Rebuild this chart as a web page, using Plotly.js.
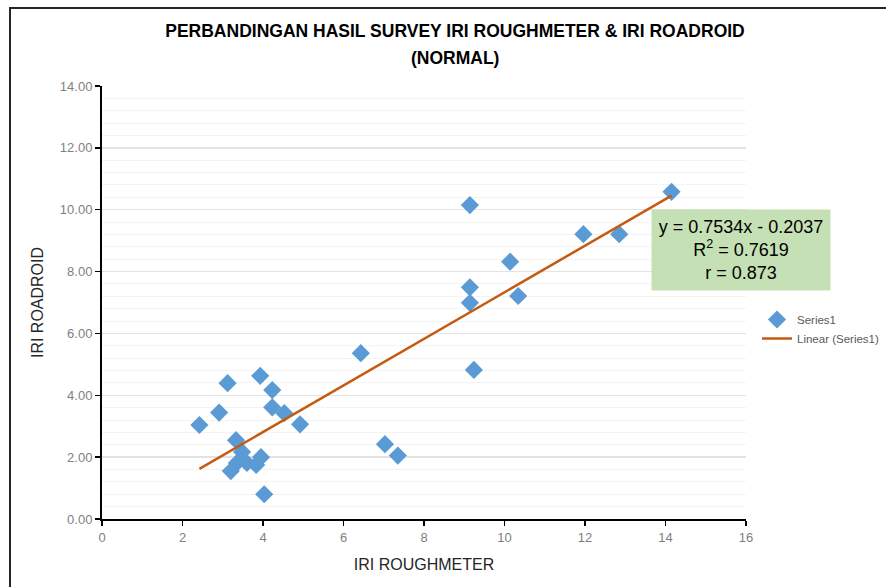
<!DOCTYPE html>
<html>
<head>
<meta charset="utf-8">
<script src="https://cdn.plot.ly/plotly-3.0.1.min.js"></script>
<style>
html,body{margin:0;padding:0;background:#fff;}
#chart{width:886px;height:587px;}
</style>
</head>
<body>
<div id="chart"></div>
<script>
// Data
var iriRoughmeter = [2.42, 2.91, 3.12, 3.33, 3.48, 3.35, 3.20, 3.60, 3.83, 3.95, 3.93, 4.23, 4.23, 4.53, 4.92, 4.03, 6.43, 7.03, 7.35, 9.14, 9.14, 9.14, 9.24, 10.14, 10.34, 11.96, 12.85, 14.15];
var iriRoadroid  = [3.04, 3.44, 4.39, 2.55, 2.17, 1.81, 1.55, 1.81, 1.75, 2.00, 4.63, 4.17, 3.61, 3.42, 3.06, 0.80, 5.36, 2.42, 2.05, 10.15, 7.49, 6.99, 4.82, 8.32, 7.21, 9.21, 9.21, 10.58];
var trendSlope = 0.7534;
var trendIntercept = -0.2037;
var rSquared = "0.7619";
var rValue = "0.873";
var xTickLabels = ["0","2","4","6","8","10","12","14","16"];
var yTickLabels = ["0.00","2.00","4.00","6.00","8.00","10.00","12.00","14.00"];

var xMin = Math.min.apply(null, iriRoughmeter);
var xMax = Math.max.apply(null, iriRoughmeter);
var trendX = [xMin, xMax];
var trendY = trendX.map(function(v){ return trendSlope * v + trendIntercept; });

var FONT = '"Liberation Sans", Arial, sans-serif';

var traces = [
  {
    x: iriRoughmeter, y: iriRoadroid,
    type: 'scatter', mode: 'markers', name: 'Series1',
    marker: {symbol: 'diamond', size: 14, color: '#5B9BD5'}
  },
  {
    x: trendX, y: trendY,
    type: 'scatter', mode: 'lines', name: 'Linear (Series1)',
    line: {color: '#C55A11', width: 2.5}
  }
];

// plot area: x 102..746, y 86..519
var L = 102, R = 746, T = 86, B = 519;
function px(p){ return (p - L) / (R - L); }
function py(p){ return (B - p) / (B - T); }

var layout = {
  width: 886, height: 587,
  margin: {l: L, r: 886 - R, t: T, b: 587 - B, autoexpand: false},
  paper_bgcolor: '#ffffff', plot_bgcolor: '#ffffff',
  font: {family: FONT, color: '#595959'},
  title: {
    text: '<b>PERBANDINGAN HASIL SURVEY IRI ROUGHMETER &amp; IRI ROADROID</b>',
    font: {family: FONT, size: 17.5, color: '#000000'},
    x: 455 / 886, xanchor: 'center', xref: 'container',
    y: 1 - 31 / 587, yanchor: 'middle', yref: 'container'
  },
  xaxis: {
    range: [0, 16],
    tickvals: xTickLabels.map(Number), ticktext: xTickLabels,
    ticks: 'outside', ticklen: 5, tickcolor: '#000', tickwidth: 1.5,
    showline: true, linecolor: '#000', linewidth: 2,
    showgrid: false, zeroline: false,
    tickfont: {family: FONT, size: 13, color: '#7f7f7f'},
    title: {text: 'IRI ROUGHMETER', font: {family: FONT, size: 16, color: '#262626'}, standoff: 15}
  },
  yaxis: {
    range: [0, 14],
    tickvals: yTickLabels.map(Number), ticktext: yTickLabels,
    ticks: 'outside', ticklen: 5, tickcolor: '#000', tickwidth: 1.5,
    showline: true, linecolor: '#000', linewidth: 2,
    showgrid: true, gridcolor: '#e3e3e3', gridwidth: 1.5,
    zeroline: false,
    minor: {dtick: 0.4, showgrid: true, gridcolor: '#f3f3f3', gridwidth: 1, ticks: ''},
    tickfont: {family: FONT, size: 13, color: '#7f7f7f'},
    title: {text: 'IRI ROADROID', font: {family: FONT, size: 16, color: '#262626'}, standoff: 12}
  },
  showlegend: true,
  legend: {
    xref: 'container', yref: 'container',
    x: 757 / 886, y: 1 - 305 / 587, xanchor: 'left', yanchor: 'top',
    font: {family: FONT, size: 11.5, color: '#595959'},
    bgcolor: 'rgba(0,0,0,0)'
  },
  annotations: [
    {
      xref: 'paper', yref: 'paper',
      x: (455 - L) / (R - L), y: py(58),
      text: '<b>(NORMAL)</b>', showarrow: false,
      font: {family: FONT, size: 17.5, color: '#000000'},
      xanchor: 'center', yanchor: 'middle'
    },
    {
      xref: 'paper', yref: 'paper',
      x: px(741), y: py(250),
      text: 'y = ' + trendSlope + 'x - ' + Math.abs(trendIntercept) + '<br>R<sup>2</sup> = ' + rSquared + '<br>r = ' + rValue,
      showarrow: false, align: 'center',
      width: 178, height: 80, borderpad: 0,
      bgcolor: '#C5E0B4',
      font: {family: FONT, size: 18, color: '#000000'},
      xanchor: 'center', yanchor: 'middle'
    }
  ],
  shapes: [
    {
      type: 'rect', xref: 'paper', yref: 'paper',
      x0: px(10), x1: px(893), y0: py(595), y1: py(8),
      line: {color: '#262626', width: 2}, fillcolor: 'rgba(0,0,0,0)', layer: 'below'
    }
  ]
};

Plotly.newPlot('chart', traces, layout, {displayModeBar: false, staticPlot: true});
</script>
</body>
</html>
